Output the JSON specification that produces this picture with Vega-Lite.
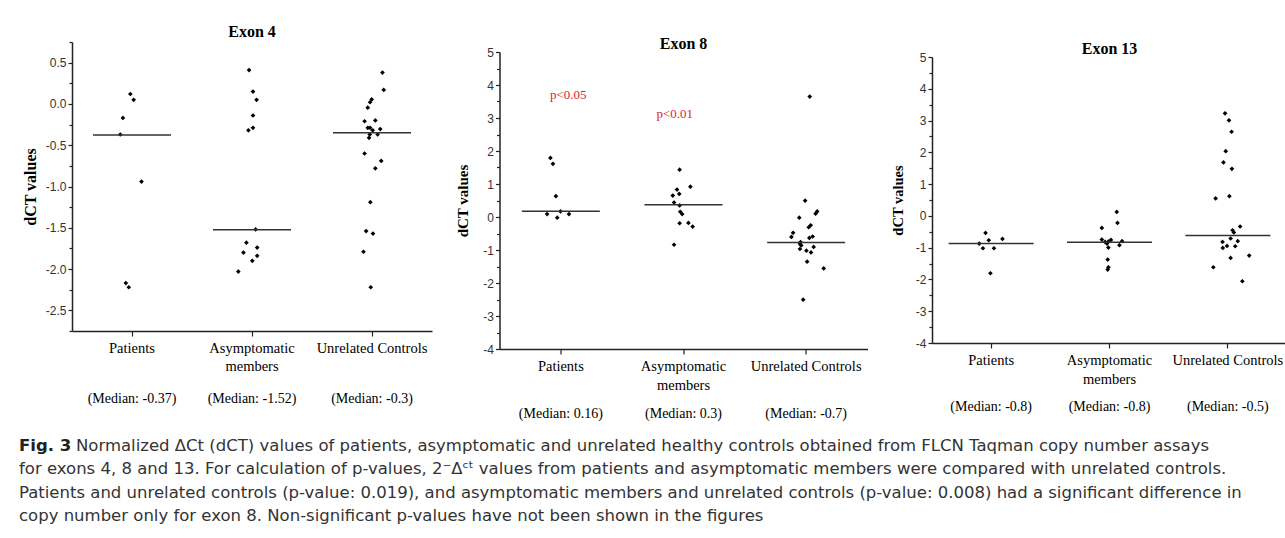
{
  "$schema": "https://vega.github.io/schema/vega-lite/v6.json",
  "padding": {"left": 19, "top": 0, "right": 0, "bottom": 0},
  "background": "white",
  "config": {
    "view": {"stroke": null},
    "axis": {"domainColor": "#222", "domainWidth": 1.5, "tickColor": "#222", "tickWidth": 1.2, "labelColor": "#333", "labelFont": "Liberation Sans", "labelFontSize": 12, "titleFont": "Liberation Serif", "titleFontWeight": "bold", "titleFontSize": 16, "titleColor": "#000", "grid": false, "labelFlush": false, "labelOverlap": false},
    "title": {"font": "Liberation Serif", "fontSize": 16, "fontWeight": "bold", "color": "#000"}
  },
  "datasets": {
    "e4": [
      {"group": "Patients", "dct": 0.12, "spread": -1.7},
      {"group": "Patients", "dct": 0.05, "spread": 1.7},
      {"group": "Patients", "dct": -0.17, "spread": -9.3},
      {"group": "Patients", "dct": -0.37, "spread": -12},
      {"group": "Patients", "dct": -0.94, "spread": 9.7},
      {"group": "Patients", "dct": -2.17, "spread": -6.3},
      {"group": "Patients", "dct": -2.22, "spread": -3.3},
      {"group": "Asymptomatic members", "dct": 0.41, "spread": -3},
      {"group": "Asymptomatic members", "dct": 0.15, "spread": 1},
      {"group": "Asymptomatic members", "dct": 0.05, "spread": 4.7},
      {"group": "Asymptomatic members", "dct": -0.14, "spread": 1},
      {"group": "Asymptomatic members", "dct": -0.29, "spread": 1},
      {"group": "Asymptomatic members", "dct": -0.32, "spread": -3.7},
      {"group": "Asymptomatic members", "dct": -1.52, "spread": 3.7},
      {"group": "Asymptomatic members", "dct": -1.68, "spread": -5.7},
      {"group": "Asymptomatic members", "dct": -1.74, "spread": 5.3},
      {"group": "Asymptomatic members", "dct": -1.8, "spread": -8.7},
      {"group": "Asymptomatic members", "dct": -1.84, "spread": 5.3},
      {"group": "Asymptomatic members", "dct": -1.9, "spread": 0.3},
      {"group": "Asymptomatic members", "dct": -2.03, "spread": -14},
      {"group": "Unrelated Controls", "dct": 0.38, "spread": 10.7},
      {"group": "Unrelated Controls", "dct": 0.17, "spread": 12},
      {"group": "Unrelated Controls", "dct": 0.055, "spread": -0.3},
      {"group": "Unrelated Controls", "dct": 0.02, "spread": -2},
      {"group": "Unrelated Controls", "dct": -0.045, "spread": -4.3},
      {"group": "Unrelated Controls", "dct": -0.21, "spread": -7.6},
      {"group": "Unrelated Controls", "dct": -0.2, "spread": 3.4},
      {"group": "Unrelated Controls", "dct": -0.29, "spread": -4.3},
      {"group": "Unrelated Controls", "dct": -0.29, "spread": -2},
      {"group": "Unrelated Controls", "dct": -0.32, "spread": 0.7},
      {"group": "Unrelated Controls", "dct": -0.305, "spread": 8.4},
      {"group": "Unrelated Controls", "dct": -0.37, "spread": -2.3},
      {"group": "Unrelated Controls", "dct": -0.37, "spread": 5.7},
      {"group": "Unrelated Controls", "dct": -0.41, "spread": -3},
      {"group": "Unrelated Controls", "dct": -0.6, "spread": -7.6},
      {"group": "Unrelated Controls", "dct": -0.69, "spread": 9.4},
      {"group": "Unrelated Controls", "dct": -0.78, "spread": 3.4},
      {"group": "Unrelated Controls", "dct": -1.19, "spread": -1.7},
      {"group": "Unrelated Controls", "dct": -1.54, "spread": -6},
      {"group": "Unrelated Controls", "dct": -1.57, "spread": 1},
      {"group": "Unrelated Controls", "dct": -1.79, "spread": -8.7},
      {"group": "Unrelated Controls", "dct": -2.22, "spread": -1.3}
    ],
    "e8": [
      {"group": "Patients", "dct": 1.79, "spread": -9.3},
      {"group": "Patients", "dct": 1.61, "spread": -6.7},
      {"group": "Patients", "dct": 0.63, "spread": -3.7},
      {"group": "Patients", "dct": 0.09, "spread": -12.7},
      {"group": "Patients", "dct": 0.17, "spread": 1},
      {"group": "Patients", "dct": -0.02, "spread": -2.3},
      {"group": "Patients", "dct": 0.09, "spread": 9.7},
      {"group": "Asymptomatic members", "dct": 1.435, "spread": -2.6},
      {"group": "Asymptomatic members", "dct": 0.92, "spread": 8.4},
      {"group": "Asymptomatic members", "dct": 0.83, "spread": -5.3},
      {"group": "Asymptomatic members", "dct": 0.7, "spread": -3},
      {"group": "Asymptomatic members", "dct": 0.65, "spread": -9.6},
      {"group": "Asymptomatic members", "dct": 0.44, "spread": -8.3},
      {"group": "Asymptomatic members", "dct": 0.35, "spread": -2.6},
      {"group": "Asymptomatic members", "dct": 0.16, "spread": -2},
      {"group": "Asymptomatic members", "dct": 0.09, "spread": 0},
      {"group": "Asymptomatic members", "dct": -0.19, "spread": -2.6},
      {"group": "Asymptomatic members", "dct": -0.18, "spread": 6.4},
      {"group": "Asymptomatic members", "dct": -0.29, "spread": 10.7},
      {"group": "Asymptomatic members", "dct": -0.84, "spread": -8.3},
      {"group": "Unrelated Controls", "dct": 3.65, "spread": 5},
      {"group": "Unrelated Controls", "dct": 0.495, "spread": 0.3},
      {"group": "Unrelated Controls", "dct": 0.17, "spread": 12.6},
      {"group": "Unrelated Controls", "dct": 0.1, "spread": 11},
      {"group": "Unrelated Controls", "dct": -0.02, "spread": -5.7},
      {"group": "Unrelated Controls", "dct": -0.25, "spread": 6},
      {"group": "Unrelated Controls", "dct": -0.31, "spread": 4},
      {"group": "Unrelated Controls", "dct": -0.48, "spread": -12},
      {"group": "Unrelated Controls", "dct": -0.605, "spread": -13.7},
      {"group": "Unrelated Controls", "dct": -0.59, "spread": 8},
      {"group": "Unrelated Controls", "dct": -0.635, "spread": 4.6},
      {"group": "Unrelated Controls", "dct": -0.757, "spread": -4.4},
      {"group": "Unrelated Controls", "dct": -0.817, "spread": -5},
      {"group": "Unrelated Controls", "dct": -0.86, "spread": -3.7},
      {"group": "Unrelated Controls", "dct": -0.908, "spread": 9},
      {"group": "Unrelated Controls", "dct": -0.969, "spread": -5},
      {"group": "Unrelated Controls", "dct": -1.02, "spread": 1.6},
      {"group": "Unrelated Controls", "dct": -1.072, "spread": 6.3},
      {"group": "Unrelated Controls", "dct": -1.354, "spread": 2.3},
      {"group": "Unrelated Controls", "dct": -1.557, "spread": 19.3},
      {"group": "Unrelated Controls", "dct": -2.505, "spread": -1.7}
    ],
    "e13": [
      {"group": "Patients", "dct": -0.535, "spread": -6.6},
      {"group": "Patients", "dct": -0.766, "spread": -3.3},
      {"group": "Patients", "dct": -0.725, "spread": 10.7},
      {"group": "Patients", "dct": -0.87, "spread": -13},
      {"group": "Patients", "dct": -1.018, "spread": -9.3},
      {"group": "Patients", "dct": -1.018, "spread": 2},
      {"group": "Patients", "dct": -1.805, "spread": -1.6},
      {"group": "Asymptomatic members", "dct": 0.126, "spread": 6.6},
      {"group": "Asymptomatic members", "dct": -0.221, "spread": 7.3},
      {"group": "Asymptomatic members", "dct": -0.378, "spread": -8.7},
      {"group": "Asymptomatic members", "dct": -0.744, "spread": -8.7},
      {"group": "Asymptomatic members", "dct": -0.819, "spread": -5.4},
      {"group": "Asymptomatic members", "dct": -0.807, "spread": -2},
      {"group": "Asymptomatic members", "dct": -0.756, "spread": 0.6},
      {"group": "Asymptomatic members", "dct": -0.797, "spread": 12},
      {"group": "Asymptomatic members", "dct": -0.923, "spread": 9.3},
      {"group": "Asymptomatic members", "dct": -0.87, "spread": -3.4},
      {"group": "Asymptomatic members", "dct": -0.996, "spread": -2},
      {"group": "Asymptomatic members", "dct": -1.374, "spread": -2.7},
      {"group": "Asymptomatic members", "dct": -1.616, "spread": -2},
      {"group": "Asymptomatic members", "dct": -1.689, "spread": -2.7},
      {"group": "Unrelated Controls", "dct": 3.226, "spread": -3.7},
      {"group": "Unrelated Controls", "dct": 3.006, "spread": 0.3},
      {"group": "Unrelated Controls", "dct": 2.647, "spread": 3},
      {"group": "Unrelated Controls", "dct": 2.038, "spread": -3},
      {"group": "Unrelated Controls", "dct": 1.682, "spread": -5.3},
      {"group": "Unrelated Controls", "dct": 1.481, "spread": 3.3},
      {"group": "Unrelated Controls", "dct": 0.55, "spread": -13.3},
      {"group": "Unrelated Controls", "dct": 0.621, "spread": 0.7},
      {"group": "Unrelated Controls", "dct": -0.334, "spread": 11.7},
      {"group": "Unrelated Controls", "dct": -0.451, "spread": 4},
      {"group": "Unrelated Controls", "dct": -0.523, "spread": 5.3},
      {"group": "Unrelated Controls", "dct": -0.712, "spread": 2},
      {"group": "Unrelated Controls", "dct": -0.819, "spread": -6.3},
      {"group": "Unrelated Controls", "dct": -0.797, "spread": 9.3},
      {"group": "Unrelated Controls", "dct": -0.945, "spread": -1.7},
      {"group": "Unrelated Controls", "dct": -1.008, "spread": -6},
      {"group": "Unrelated Controls", "dct": -0.955, "spread": 6.7},
      {"group": "Unrelated Controls", "dct": -1.248, "spread": 21},
      {"group": "Unrelated Controls", "dct": -1.323, "spread": 2},
      {"group": "Unrelated Controls", "dct": -1.616, "spread": -15.7},
      {"group": "Unrelated Controls", "dct": -2.057, "spread": 14}
    ],
    "medians": [
      {"exon": "Exon 4", "group": "Patients", "median": -0.377},
      {"exon": "Exon 4", "group": "Asymptomatic members", "median": -1.525},
      {"exon": "Exon 4", "group": "Unrelated Controls", "median": -0.349},
      {"exon": "Exon 8", "group": "Patients", "median": 0.172},
      {"exon": "Exon 8", "group": "Asymptomatic members", "median": 0.374},
      {"exon": "Exon 8", "group": "Unrelated Controls", "median": -0.769},
      {"exon": "Exon 13", "group": "Patients", "median": -0.87},
      {"exon": "Exon 13", "group": "Asymptomatic members", "median": -0.829},
      {"exon": "Exon 13", "group": "Unrelated Controls", "median": -0.618}
    ],
    "sig": [
      {"group": "Patients", "dct": 3.71, "spread": 9, "label": "p<0.05"},
      {"group": "Asymptomatic members", "dct": 3.13, "spread": -7.6, "label": "p<0.01"}
    ],
    "caption": [
      {"line": 1, "part": "head", "text": "Fig. 3"},
      {"line": 1, "part": "first", "text": "Normalized ΔCt (dCT) values of patients, asymptomatic and unrelated healthy controls obtained from FLCN Taqman copy number assays"},
      {"line": 2, "part": "rest", "text": "for exons 4, 8 and 13. For calculation of p-values, 2⁻Δᶜᵗ values from patients and asymptomatic members were compared with unrelated controls."},
      {"line": 3, "part": "rest", "text": "Patients and unrelated controls (p-value: 0.019), and asymptomatic members and unrelated controls (p-value: 0.008) had a significant difference in"},
      {"line": 4, "part": "rest", "text": "copy number only for exon 8. Non-significant p-values have not been shown in the figures"}
    ]
  },
  "vconcat": [
    {
      "hconcat": [
        {
          "vconcat": [
            {"width": 360, "height": 42, "data": {"values": []}, "mark": "point"},
            {
              "width": 360, "height": 289,
              "title": {"text": "Exon 4", "frame": "group", "offset": 1},
              "resolve": {"axis": {"x": "independent", "y": "independent"}},
              "layer": [
                {
                  "data": {"name": "e4"},
                  "mark": {"type": "point", "shape": "diamond", "filled": true, "color": "#000", "size": 22, "opacity": 1},
                  "encoding": {
                    "x": {"field": "group", "type": "nominal", "scale": {"type": "band", "domain": ["Patients", "Asymptomatic members", "Unrelated Controls"], "paddingInner": 0, "paddingOuter": 0},
                      "axis": {"orient": "bottom", "title": null, "labelAngle": 0, "tickSize": 5, "labelPadding": 5, "labelFont": "Liberation Serif", "labelFontSize": 14.5, "labelColor": "#000", "labelLineHeight": 18.5,
                        "labelExpr": "datum.value == 'Asymptomatic members' ? ['Asymptomatic','members'] : datum.value"}},
                    "xOffset": {"field": "spread", "type": "quantitative", "scale": {"domain": [-60, 60]}},
                    "y": {"field": "dct", "type": "quantitative", "scale": {"domain": [-2.75, 0.75], "nice": false, "zero": false},
                      "axis": {"title": "dCT values", "titleFontSize": 16, "values": [-2.5, -2, -1.5, -1, -0.5, 0, 0.5], "tickCount": 100, "tickSize": 4, "labelPadding": 2, "titlePadding": 7,
                        "labelExpr": "(datum.value < 0 ? '-' : '') + format(abs(datum.value), '.1f')"}}
                  }
                },
                {
                  "data": {"name": "medians"},
                  "transform": [{"filter": "datum.exon == 'Exon 4'"}],
                  "mark": {"type": "tick", "size": 78, "thickness": 1.5, "color": "#333", "opacity": 1},
                  "encoding": {
                    "x": {"field": "group", "type": "nominal",
                      "axis": {"orient": "bottom", "title": null, "domain": false, "ticks": false, "tickSize": 0, "labelPadding": 60, "labelAngle": 0, "labelFont": "Liberation Serif", "labelFontSize": 14, "labelColor": "#000",
                        "labelExpr": "datum.value == 'Patients' ? '(Median: -0.37)' : datum.value == 'Asymptomatic members' ? '(Median: -1.52)' : '(Median: -0.3)'"}},
                    "y": {"field": "median", "type": "quantitative",
                      "axis": {"orient": "left", "title": null, "labels": false, "domain": false, "tickSize": 3, "tickCount": 100, "values": [-2.75, -2.25, -1.75, -1.25, -0.75, -0.25, 0.25, 0.75]}}
                  }
                }
              ]
            }
          ],
          "spacing": 0, "bounds": "flush"
        },
        {
          "vconcat": [
            {"width": 368, "height": 52, "data": {"values": []}, "mark": "point"},
            {
              "width": 368, "height": 297,
              "title": {"text": "Exon 8", "frame": "group", "offset": -5.5},
              "resolve": {"axis": {"x": "independent", "y": "independent"}},
              "layer": [
                {
                  "data": {"name": "e8"},
                  "mark": {"type": "point", "shape": "diamond", "filled": true, "color": "#000", "size": 22, "opacity": 1},
                  "encoding": {
                    "x": {"field": "group", "type": "nominal", "scale": {"type": "band", "domain": ["Patients", "Asymptomatic members", "Unrelated Controls"], "paddingInner": 0, "paddingOuter": 0},
                      "axis": {"orient": "bottom", "title": null, "labelAngle": 0, "tickSize": 5, "labelPadding": 5, "labelFont": "Liberation Serif", "labelFontSize": 14.5, "labelColor": "#000", "labelLineHeight": 19,
                        "labelExpr": "datum.value == 'Asymptomatic members' ? ['Asymptomatic','members'] : datum.value"}},
                    "xOffset": {"field": "spread", "type": "quantitative", "scale": {"domain": [-61.33, 61.33]}},
                    "y": {"field": "dct", "type": "quantitative", "scale": {"domain": [-4, 5], "nice": false, "zero": false},
                      "axis": {"title": "dCT values", "titleFontSize": 15, "values": [-4, -3, -2, -1, 0, 1, 2, 3, 4, 5], "tickCount": 100, "tickSize": 4, "labelPadding": 2, "titlePadding": 12.5,
                        "labelExpr": "(datum.value < 0 ? '-' : '') + format(abs(datum.value), 'd')"}}
                  }
                },
                {
                  "data": {"name": "medians"},
                  "transform": [{"filter": "datum.exon == 'Exon 8'"}],
                  "mark": {"type": "tick", "size": 78, "thickness": 1.5, "color": "#333", "opacity": 1},
                  "encoding": {
                    "x": {"field": "group", "type": "nominal",
                      "axis": {"orient": "bottom", "title": null, "domain": false, "ticks": false, "tickSize": 0, "labelPadding": 57, "labelAngle": 0, "labelFont": "Liberation Serif", "labelFontSize": 14, "labelColor": "#000",
                        "labelExpr": "datum.value == 'Patients' ? '(Median: 0.16)' : datum.value == 'Asymptomatic members' ? '(Median: 0.3)' : '(Median: -0.7)'"}},
                    "y": {"field": "median", "type": "quantitative",
                      "axis": {"orient": "left", "title": null, "labels": false, "domain": false, "tickSize": 3, "tickCount": 100, "values": [-3.5, -2.5, -1.5, -0.5, 0.5, 1.5, 2.5, 3.5, 4.5]}}
                  }
                },
                {
                  "data": {"name": "sig"},
                  "mark": {"type": "text", "font": "Liberation Serif", "fontSize": 13, "color": "#d9262b", "align": "center", "baseline": "middle"},
                  "encoding": {"x": {"field": "group", "type": "nominal", "axis": null}, "xOffset": {"field": "spread", "type": "quantitative"}, "y": {"field": "dct", "type": "quantitative", "axis": null}, "text": {"field": "label"}}
                }
              ]
            }
          ],
          "spacing": 0, "bounds": "flush"
        },
        {
          "vconcat": [
            {"width": 355, "height": 57, "data": {"values": []}, "mark": "point"},
            {
              "width": 355, "height": 286,
              "title": {"text": "Exon 13", "frame": "group", "offset": -5.5},
              "resolve": {"axis": {"x": "independent", "y": "independent"}},
              "layer": [
                {
                  "data": {"name": "e13"},
                  "mark": {"type": "point", "shape": "diamond", "filled": true, "color": "#000", "size": 22, "opacity": 1},
                  "encoding": {
                    "x": {"field": "group", "type": "nominal", "scale": {"type": "band", "domain": ["Patients", "Asymptomatic members", "Unrelated Controls"], "paddingInner": 0, "paddingOuter": 0},
                      "axis": {"orient": "bottom", "title": null, "labelAngle": 0, "tickSize": 5, "labelPadding": 5, "labelFont": "Liberation Serif", "labelFontSize": 14.5, "labelColor": "#000", "labelLineHeight": 19,
                        "labelExpr": "datum.value == 'Asymptomatic members' ? ['Asymptomatic','members'] : datum.value"}},
                    "xOffset": {"field": "spread", "type": "quantitative", "scale": {"domain": [-59.17, 59.17]}},
                    "y": {"field": "dct", "type": "quantitative", "scale": {"domain": [-4, 5], "nice": false, "zero": false},
                      "axis": {"title": "dCT values", "titleFontSize": 14.5, "values": [-4, -3, -2, -1, 0, 1, 2, 3, 4, 5], "tickCount": 100, "tickSize": 4, "labelPadding": 2, "titlePadding": 10,
                        "labelExpr": "(datum.value < 0 ? '-' : '') + format(abs(datum.value), 'd')"}}
                  }
                },
                {
                  "data": {"name": "medians"},
                  "transform": [{"filter": "datum.exon == 'Exon 13'"}],
                  "mark": {"type": "tick", "size": 85, "thickness": 1.5, "color": "#333", "opacity": 1},
                  "encoding": {
                    "x": {"field": "group", "type": "nominal",
                      "axis": {"orient": "bottom", "title": null, "domain": false, "ticks": false, "tickSize": 0, "labelPadding": 56, "labelAngle": 0, "labelFont": "Liberation Serif", "labelFontSize": 14, "labelColor": "#000",
                        "labelExpr": "datum.value == 'Patients' ? '(Median: -0.8)' : datum.value == 'Asymptomatic members' ? '(Median: -0.8)' : '(Median: -0.5)'"}},
                    "y": {"field": "median", "type": "quantitative",
                      "axis": {"orient": "left", "title": null, "labels": false, "domain": false, "tickSize": 3, "tickCount": 100, "values": [-3.5, -2.5, -1.5, -0.5, 0.5, 1.5, 2.5, 3.5, 4.5]}}
                  }
                }
              ]
            }
          ],
          "spacing": 0, "bounds": "flush"
        }
      ],
      "spacing": 22.5
    },
    {
      "width": 1240, "height": 93,
      "data": {"name": "caption"},
      "encoding": {
        "y": {"field": "line", "type": "ordinal", "axis": null, "scale": {"paddingInner": 0, "paddingOuter": 0}},
        "x": {"value": -53},
        "text": {"field": "text"}
      },
      "layer": [
        {"transform": [{"filter": "datum.part == 'head'"}], "mark": {"type": "text", "align": "left", "baseline": "middle", "font": "DejaVu Sans", "fontSize": 16.5, "fontWeight": "bold", "color": "#222"}},
        {"transform": [{"filter": "datum.part == 'first'"}], "mark": {"type": "text", "align": "left", "baseline": "middle", "font": "DejaVu Sans", "fontSize": 16.5, "color": "#333", "dx": 57}},
        {"transform": [{"filter": "datum.part == 'rest'"}], "mark": {"type": "text", "align": "left", "baseline": "middle", "font": "DejaVu Sans", "fontSize": 16.5, "color": "#333"}}
      ]
    }
  ],
  "spacing": 434.5, "bounds": "flush"
}
